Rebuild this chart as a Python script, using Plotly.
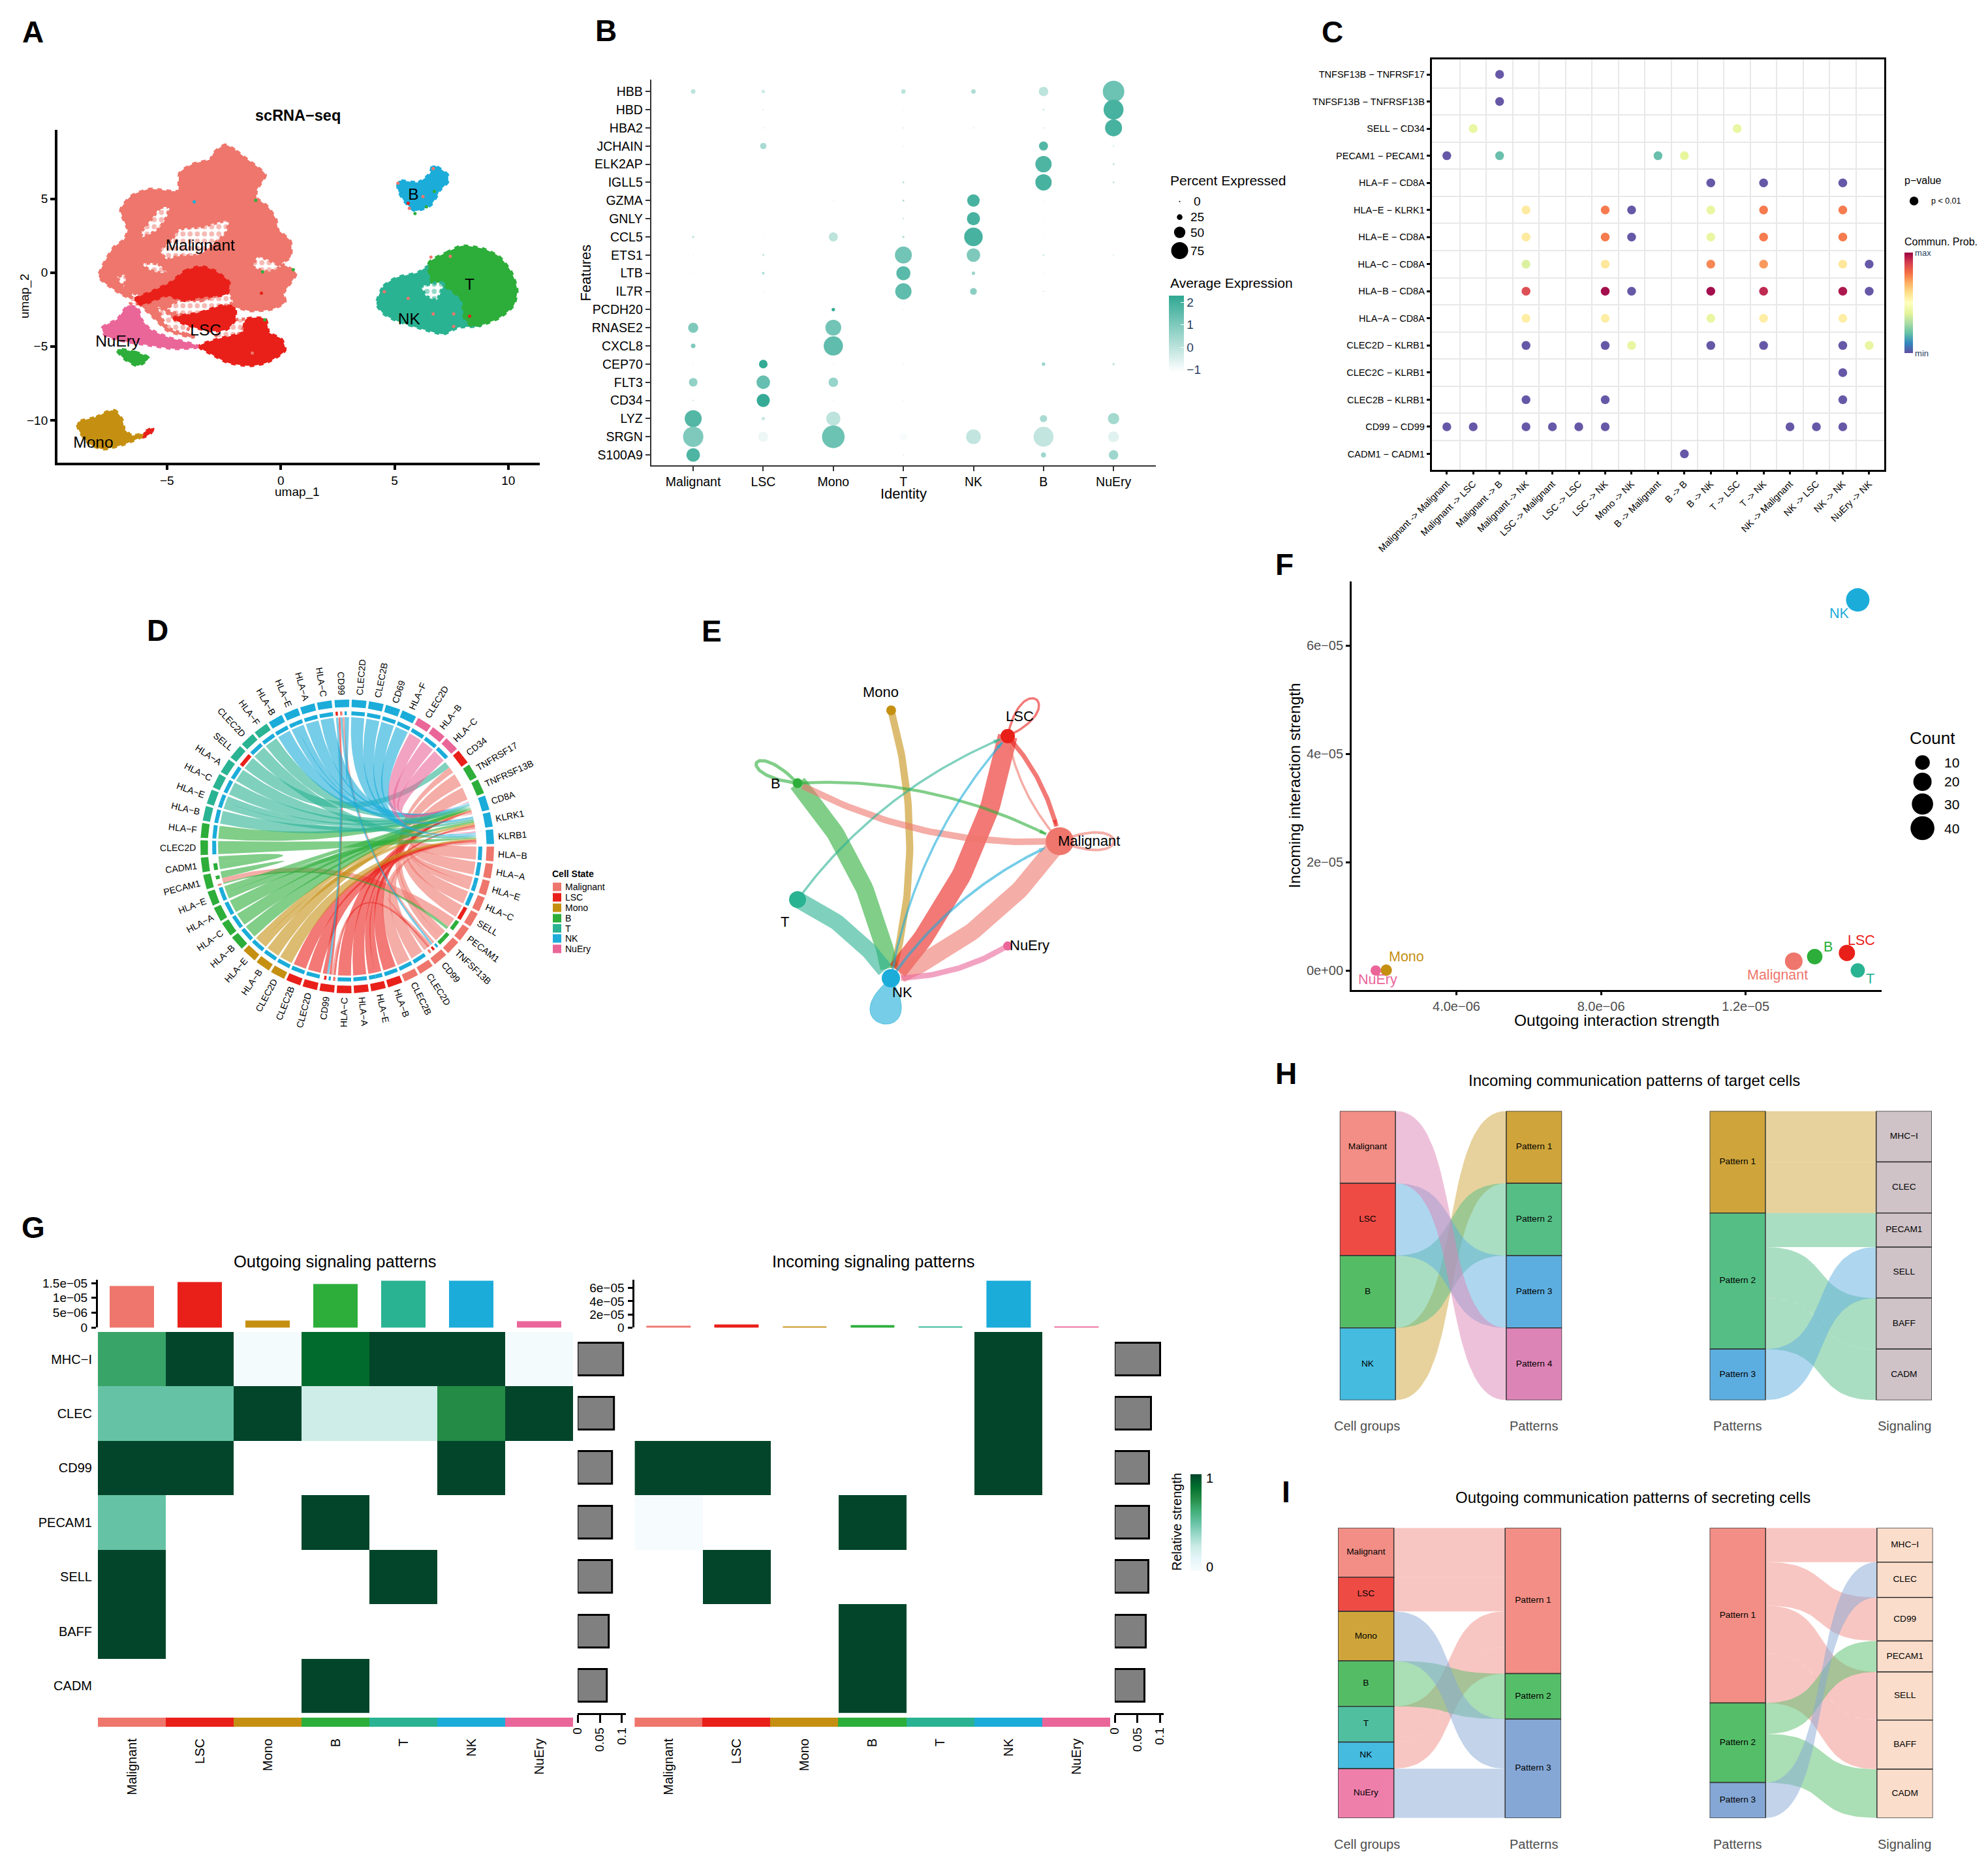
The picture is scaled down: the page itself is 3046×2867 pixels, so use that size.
import numpy as np
import plotly.graph_objects as go

W, H = 3046, 2867
FONT = "Liberation Sans"

# ---------- shared ----------
COL = dict(Malignant="#EE766C", LSC="#E9201A", Mono="#C59012", B="#2DAE3A", T="#2AB392", NK="#1BACD9", NuEry="#EA6699")

# ---------- A: UMAP outlines (umap_1, umap_2) ----------
A_MALIGNANT = [(-2.44,8.6),(-1.97,8.19),(-1.5,7.63),(-1.02,7.07),(-0.71,6.61),(-1.1,5.6),(-1.1,5.03),(-0.63,4.47),(-0.24,3.57),(-0.16,2.89),(0.39,2.1),(0.39,1.08),(0,0.63),(0.63,-0.05),(0.08,-1.4),(0.16,-1.96),(-0.39,-2.42),(-1.34,-2.53),(-1.97,-2.3),(-2.91,-2.08),(-4.49,-2.75),(-4.65,-3.66),(-3.86,-4.33),(-4.96,-3.88),(-5.43,-3.2),(-6.38,-1.85),(-7.0,-1.4),(-7.95,-0.27),(-7.8,0.41),(-7.32,1.65),(-6.85,2.21),(-6.69,2.89),(-7.0,4.24),(-6.54,5.15),(-5.75,5.6),(-4.49,5.49),(-4.41,6.73),(-3.86,7.29),(-3.07,7.63),(-2.91,8.08)]
A_HOLES = [
    [(-5.6,3.8),(-5.3,4.4),(-4.9,4.4),(-5.0,3.8),(-5.4,2.9),(-6.1,2.4),(-6.1,2.8)],
    [(-4.5,2.9),(-3.5,3.1),(-2.3,3.5),(-2.4,2.7),(-2.9,2.0),(-3.6,1.2),(-4.5,1.1),(-5,0.9),(-5.3,1.5),(-4.8,2.2)],
    [(-6.1,0.6),(-5.4,0.6),(-5,0),(-5.4,0),(-5.8,0.2)],
    [(-1,1.1),(-0.2,0.6),(0,0.4),(-0.55,0.05),(-1.2,0.4)],
    [(-4.5,-1.9),(-3.5,-1.9),(-2.3,-1.4),(-2.1,-2),(-2.9,-2.5),(-4.2,-2.9),(-5,-2.5)],
    [(-5.4,-2.3),(-4.65,-3.1),(-4,-3.5),(-4.2,-4.1),(-5,-3.7)],
    [(-2.9,-4.1),(-2,-3.2),(-1.5,-3.2),(-1.8,-4.1),(-2.6,-4.6)],
    [(-6.5,-1.4),(-6.2,-1.6),(-6.3,-2.1),(-6.6,-2.1)],
    [(-7.2,-0.3),(-6.8,-0.15),(-6.9,-0.95)],
]
A_LSC = [
    [(-4.8,-0.7),(-4.2,0.05),(-3.5,0.35),(-2.9,0.05),(-2.3,-0.7),(-2.4,-1.4),(-3.5,-1.6),(-4.2,-1.85),(-5,-1.5),(-6.1,-2.1),(-6.4,-1.85),(-5.6,-1.3)],
    [(-4.65,-3.1),(-3.5,-2.75),(-2.6,-2.3),(-2.05,-2.4),(-2.05,-3.2),(-2.4,-3.8),(-3.1,-3.9),(-4,-3.55)],
    [(-1.5,-3.2),(-0.7,-3.2),(-0.55,-4.1),(0,-4.55),(0.15,-5.25),(-0.65,-6.05),(-1.35,-6.25),(-2.3,-6.05),(-3.05,-5.45),(-3.55,-5),(-2.75,-4.55),(-1.65,-4.1)],
    [(-6,-10.9),(-5.65,-10.6),(-5.75,-10.85),(-6.05,-11.1)],
]
A_NUERY = [(-6.7,-2.3),(-6.3,-2.5),(-6.15,-3.2),(-5.75,-3.9),(-4.95,-4.45),(-3.7,-5),(-4.65,-5.1),(-6.05,-4.8),(-7,-4.55),(-7.7,-4.2),(-7.8,-3.75),(-7.15,-3.2)]
A_GREEN_SMALL = [(-7.15,-5.25),(-6.4,-5.45),(-5.85,-5.8),(-6.3,-6.25),(-6.85,-5.8)]
A_MONO = [(-8.9,-10.2),(-8.1,-9.85),(-7.65,-9.5),(-7.3,-9.4),(-7,-10),(-6.9,-10.65),(-6.55,-11.1),(-6.05,-11),(-6.85,-11.55),(-7.8,-11.9),(-8.4,-11.55),(-8.8,-10.75)]
A_CYAN = [(5.2,6.15),(6.05,6.05),(6.6,6.7),(6.7,7.2),(7.3,6.6),(7.3,6.15),(6.95,5.6),(6.8,5.15),(6.55,4.6),(5.9,4.25),(5.45,4.9),(5.2,5.6)]
A_T = [(6.55,0.65),(7.3,1.3),(7.95,1.75),(8.9,1.55),(9.6,1.0),(10.1,0),(10.35,-1.2),(10.2,-2.2),(9.6,-3.0),(8.9,-3.45),(8.4,-3.55),(8.1,-3.05),(8,-1.85),(7.3,-0.95),(6.7,-0.7)]
A_NK = [(4.25,-2.1),(4.55,-0.95),(5.1,-0.4),(6.05,-0.05),(6.55,0.4),(7.5,-0.95),(8,-1.95),(8.1,-3),(8.75,-3.55),(7.8,-3.65),(7.15,-4.1),(6.2,-3.75),(5.1,-3.2),(4.55,-2.75)]
A_NK_HOLE = [(6.2,-0.95),(7.15,-0.7),(6.85,-1.85),(6.4,-1.6)]
A_DOT_X = [7.45,6.6,4.55,5.6,6.7,7.6,7.6,8.3,5.15,5.6,5.65,5.9,6.4,6.75,6.7,6.25,-1.1,-3.8,-0.85,0.55,-0.8,-1.25,-0.7]
A_DOT_Y = [1.1,1.05,-1.3,-1.75,-2.8,-2.8,-3.65,-2.95,6.05,4.7,4.35,4.0,4.45,5.5,7.05,5.15,4.9,4.8,-1.4,0.2,0.05,-5.45,-3.2]
A_DOT_GROUP = ["Malignant","Malignant","Malignant","Malignant","Malignant","Malignant","Malignant","LSC","Malignant","LSC","Malignant","B","B","B","Malignant","Malignant","B","NK","LSC","B","B","Malignant","B"]
A_LABELS = ["Malignant","LSC","NuEry","Mono","B","T","NK"]
A_LABEL_X = [-3.54,-3.3,-7.17,-8.24,5.83,8.3,5.64]
A_LABEL_Y = [1.76,-4.0,-4.74,-11.6,5.19,-0.9,-3.25]

# ---------- B: dot plot ----------
B_IDENT = ["Malignant","LSC","Mono","T","NK","B","NuEry"]
B_GENES = ["HBB","HBD","HBA2","JCHAIN","ELK2AP","IGLL5","GZMA","GNLY","CCL5","ETS1","LTB","IL7R","PCDH20","RNASE2","CXCL8","CEP70","FLT3","CD34","LYZ","SRGN","S100A9"]
B_PCT = [[20,15,1,20,20,42,95],[3,5,1,3,2,8,88],[3,5,1,5,5,6,75],[4,28,1,5,2,40,7],[2,2,1,2,2,72,8],[2,2,1,8,2,72,8],[2,2,5,8,55,3,2],
         [2,2,1,6,58,3,2],[10,3,40,10,82,3,2],[3,10,1,75,60,8,6],[3,12,1,62,15,3,1],[2,5,1,72,30,6,3],[1,1,15,2,1,1,1],[45,2,70,1,1,2,3],
         [20,2,85,1,1,2,3],[4,38,4,3,2,15,10],[38,60,42,1,1,1,1],[6,58,2,2,2,2,2],[75,15,62,3,2,32,50],[90,45,100,35,65,88,48],[60,2,3,5,2,22,42]]
B_EXPR = [[0,-.3,-1,0,.2,0,1.3],[-.5,0,-1,-.5,-.8,-.2,1.9],[-.5,-.3,-1,-.2,-.2,-.3,1.9],[-.7,.3,-1,-.5,-1,1.7,-.3],[-.8,-.8,-.8,-.8,-.8,1.8,.2],[-.8,-.8,-.8,.2,-.8,1.9,0],[-.8,-.8,-.5,.3,1.9,-.5,-.8],
          [-.8,-.8,-.8,0,1.9,-.5,-.8],[0,-.5,0,.2,1.9,-.5,-.8],[-.5,-.2,-1,1.2,1.0,-.2,-.3],[-.6,.2,-1,1.6,.5,-.5,-1],[-.8,-.5,-1,1.5,.8,-.2,-.6],[-1,-1,2.2,-.5,-1,-1,-1],[1,-.8,1.2,-1,-1,-.8,-.6],
          [1,-.8,1.5,-1,-1,-.8,-.6],[-.3,2.2,-.5,-.4,-.8,.6,0],[.7,1.4,.6,-1,-1,-1,-1],[0,2.2,-.5,-.5,-.8,-.8,-.8],[1.7,-.2,0,-.8,-1,.3,.4],[1.0,-.8,1.3,-1,-.1,-.1,-.6],[1.8,-.8,-.5,-.3,-.8,.5,.5]]
B_LEGEND_PCT = [0,25,50,75]

# ---------- C: L-R bubble ----------
C_PAIRS = ["Malignant -> Malignant","Malignant -> LSC","Malignant -> B","Malignant -> NK","LSC -> Malignant","LSC -> LSC","LSC -> NK","Mono -> NK","B -> Malignant","B -> B","B -> NK","T -> LSC","T -> NK","NK -> Malignant","NK -> LSC","NK -> NK","NuEry -> NK"]
C_LR = ["TNFSF13B − TNFRSF17","TNFSF13B − TNFRSF13B","SELL − CD34","PECAM1 − PECAM1","HLA−F − CD8A","HLA−E − KLRK1","HLA−E − CD8A","HLA−C − CD8A","HLA−B − CD8A","HLA−A − CD8A","CLEC2D − KLRB1","CLEC2C − KLRB1","CLEC2B − KLRB1","CD99 − CD99","CADM1 − CADM1"]
C_COLS = [[2],[2],[1,11],[0,2,8,9],[10,12,15],[3,6,7,10,12,15],[3,6,7,10,12,15],[3,6,10,12,15,16],[3,6,7,10,12,15,16],[3,6,10,12,15],[3,6,7,10,12,15,16],[15],[3,6,15],[0,1,3,4,5,6,13,14,15],[9]]
C_VALS = [[0],[0],[.41,.41],[0,.19,.19,.40],[0,0,0],[.57,.79,0,.41,.79,.79],[.57,.79,0,.41,.79,.79],[.38,.58,.77,.74,.58,0],[.88,1,0,1,.95,.98,0],[.56,.56,.41,.56,.56],[0,0,.41,0,0,0,.41],[0],[0,0,0],[0,0,0,0,0,0,0,0,0],[0]]

# ---------- D: chord ----------
D_SECTORS = ["CD99","CLEC2D","CLEC2B","CD69","HLA−F","CLEC2D","HLA−B","HLA−C","CD34","TNFRSF17","TNFRSF13B","CD8A","KLRK1","KLRB1",
             "HLA−B","HLA−A","HLA−E","HLA−C","SELL","PECAM1","TNFSF13B","CD99","CLEC2D","CLEC2B",
             "HLA−B","HLA−E","HLA−A","HLA−C","CD99","CLEC2D","CLEC2B","CLEC2D","HLA−B","HLA−E",
             "HLA−B","HLA−C","HLA−A","HLA−E","PECAM1","CADM1","CLEC2D","HLA−F",
             "HLA−B","HLA−E","HLA−C","HLA−A","SELL","CLEC2D","HLA−F","HLA−B","HLA−E","HLA−A","HLA−C"]
D_GROUPS = ["NK"]*5+["NuEry"]*3+["LSC"]+["B"]*2+["NK"]*3+["Malignant"]*10+["LSC"]*7+["Mono"]*3+["B"]*8+["T"]*7+["NK"]*4
D_SRC = [15,16,17,17,18,19,20,21,21,22,22,22,23,24, 25,26,26,27,28,29,29,29,30,31, 32,33,34,34, 35,36,37,38,38,39,39,40,41,42, 43,44,44,45,46,47,48,49, 50,51,51,52,53,1,1,1,2,3,4,5, 6,7,8]
D_DST = [12,12,12,13,12,9,39,10,11,29,1,22,14,14, 12,12,13,12,12,1,22,29,14,14, 14,12,12,13, 12,12,12,12,13,20,39,40,14,12, 12,12,13,12,12,9,14,12, 12,12,13,12,12,22,29,1,14,14,14,12, 14,12,12]
D_WGT = [1,1,.5,.5,1,1,1,.5,.5,.33,.33,.33,1,1, 1,.5,.5,1,1,.33,.33,.33,1,1, 1,1,.5,.5, 1,1,1,.5,.5,.3,.7,1,1,1, 1,.5,.5,1,1,1,1,1, 1,.5,.5,1,1,.33,.33,.33,1,1,1,1, 1,1,1]

# ---------- E: network ----------
E_NODES = ["Mono","LSC","B","Malignant","T","NuEry","NK"]
E_NODE_X = [1365.4,1544,1222,1623.7,1222,1544,1365]
E_NODE_Y = [1088.4,1128,1200,1289,1378.4,1449.6,1499]
E_NODE_SIZE = [15,22,15,43,26,14,28]
E_SRC = ["Mono","B","T","LSC","Malignant","NuEry","Malignant","B","T","NK","NK","LSC","Malignant"]
E_DST = ["NK","NK","NK","NK","NK","NK","B","Malignant","LSC","LSC","Malignant","Malignant","LSC"]
E_WIDTH = [11,27,25,30,27,8.5,10,4.5,3.5,3.5,4,7,3.5]
E_LOOP_NODE = ["B","LSC","Malignant"]
E_LOOP_WIDTH = [5,3.5,4]

# ---------- F: scatter ----------
F_NAMES = ["Malignant","LSC","Mono","B","T","NK","NuEry"]
F_OUT = [13.33e-6,14.8e-6,2.06e-6,13.91e-6,15.1e-6,15.1e-6,1.77e-6]
F_IN = [1.75e-6,3.27e-6,0.1e-6,2.6e-6,0.05e-6,68.4e-6,0.03e-6]
F_COUNT = [18,14,3,12,9,38,1]
F_LEGEND = [10,20,30,40]

# ---------- G: heatmaps ----------
G_CELLS = ["Malignant","LSC","Mono","B","T","NK","NuEry"]
G_SIGNALS = ["MHC−I","CLEC","CD99","PECAM1","SELL","BAFF","CADM"]
G_OUT = [[.66,1,.02,.88,1,1,.02],[.5,.5,1,.24,.24,.75,1],[1,1,None,None,None,1,None],[.5,None,None,1,None,None,None],[1,None,None,None,1,None,None],[1,None,None,None,None,None,None],[None,None,None,1,None,None,None]]
G_IN = [[None,None,None,None,None,1,None],[None,None,None,None,None,1,None],[1,1,None,None,None,1,None],[.01,None,None,1,None,None,None],[None,1,None,None,None,None,None],[None,None,None,1,None,None,None],[None,None,None,1,None,None,None]]
G_OUT_TOP = [13.7e-6,15.2e-6,2.2e-6,14.4e-6,15.6e-6,15.6e-6,1.9e-6]
G_IN_TOP = [1.8e-6,3.3e-6,1.0e-6,3.0e-6,1.0e-6,70e-6,1.0e-6]
G_OUT_SIDE = [.103,.082,.078,.078,.078,.071,.066]
G_IN_SIDE = [.102,.081,.077,.077,.076,.07,.067]

# ---------- H / I: alluvials ----------
HL_LEFT = ["Malignant","LSC","B","NK"]; HL_RIGHT = ["Pattern 1","Pattern 2","Pattern 3","Pattern 4"]
HL_SRC = [3,2,1,0]; HL_DST = [0,1,2,3]; HL_VAL = [1,1,1,1]
HR_LEFT = ["Pattern 1","Pattern 2","Pattern 3"]; HR_RIGHT = ["MHC−I","CLEC","PECAM1","SELL","BAFF","CADM"]
HR_SRC = [0,0,1,1,1,2]; HR_DST = [0,1,2,4,5,3]; HR_VAL = [1,1,.667,1,1,1]
IL_LEFT = ["Malignant","LSC","Mono","B","T","NK","NuEry"]; IL_RIGHT = ["Pattern 1","Pattern 2","Pattern 3"]
IL_SRC = [0,1,4,5,3,2,6]; IL_DST = [0,0,0,0,1,2,2]; IL_VAL = [.170,.118,.123,.092,.157,.171,.170]
IR_LEFT = ["Pattern 1","Pattern 2","Pattern 3"]; IR_RIGHT = ["MHC−I","CLEC","CD99","PECAM1","SELL","BAFF","CADM"]
IR_SRC = [0,0,0,0,1,1,2]; IR_DST = [0,2,4,5,3,6,1]; IR_VAL = [.118,.150,.166,.170,.107,.168,.122]

# =========================== helpers ===========================
traces, annots, shapes = [], [], []
layout_axes = {}
_n = [0]

def rgba(hexc, a):
    return f"rgba({int(hexc[1:3],16)},{int(hexc[3:5],16)},{int(hexc[5:7],16)},{a})"

def axes(x0, x1, y0, y1, xr, yr, xa=None, ya=None):
    _n[0] += 1
    n = _n[0]
    xd = dict(domain=[x0/W, x1/W], range=list(xr), anchor=f"y{n}", visible=False, showgrid=False, zeroline=False, fixedrange=True)
    yd = dict(domain=[1-y1/H, 1-y0/H], range=list(yr), anchor=f"x{n}", visible=False, showgrid=False, zeroline=False, fixedrange=True)
    if xa: xd.update(visible=True, **xa)
    if ya: yd.update(visible=True, **ya)
    layout_axes[f"xaxis{n}"] = xd
    layout_axes[f"yaxis{n}"] = yd
    return f"x{n}", f"y{n}"

def add(tr, ax):
    tr.xaxis, tr.yaxis = ax
    traces.append(tr)

def note(x, y, text, size=18, color="black", bold=False, angle=0, xa="center", ya="middle"):
    annots.append(dict(x=x/W, y=1-y/H, xref="paper", yref="paper", text=f"<b>{text}</b>" if bold else text, showarrow=False,
                       font=dict(family=FONT, size=size, color=color), textangle=angle, xanchor=xa, yanchor=ya, borderpad=0))

def circle(cx, cy, d, color="black"):
    shapes.append(dict(type="circle", xref="paper", yref="paper", x0=(cx-d/2)/W, x1=(cx+d/2)/W, y0=1-(cy+d/2)/H, y1=1-(cy-d/2)/H, fillcolor=color, line=dict(width=0)))

def rect(x0, y0, x1, y1, color):
    shapes.append(dict(type="rect", xref="paper", yref="paper", x0=x0/W, x1=x1/W, y0=1-y1/H, y1=1-y0/H, fillcolor=color, line=dict(width=0)))

def tickstyle(size=18, color="black", lw=2, linecolor="black", ticklen=7, tickw=None, **kw):
    d = dict(showline=True, linecolor=linecolor, linewidth=lw, ticks="outside", ticklen=ticklen, tickwidth=tickw or lw, tickcolor=linecolor,
             tickfont=dict(family=FONT, size=size, color=color))
    d.update(kw)
    return d

# =========================== panel letters ===========================
for L, x, y in [("A",50.5,48.6),("B",928.6,46.6),("C",2041.7,48.6),("D",241,965.5),("E",1090,967.4),("F",1968,864.5),("G",50.5,1880.5),("H",1970,1645),("I",1970,2286.4)]:
    note(x, y, L, size=46, bold=True)

# =========================== A ===========================
axA = axes(87.8, 826.6, 199, 709, (-9.82,11.37), (-12.88,9.67),
           xa=tickstyle(19, lw=3.5, tickvals=[-5,0,5,10]), ya=tickstyle(19, lw=3.5, tickvals=[-10,-5,0,5]))

def poly(pts, color, ax, lw=3, rough=True):
    x = [p[0] for p in pts]+[pts[0][0]]
    y = [p[1] for p in pts]+[pts[0][1]]
    spl = dict(shape="spline", smoothing=.6)
    add(go.Scatter(x=x, y=y, mode="lines", fill="toself", fillcolor=color, line=dict(color=color, width=lw, **spl), hoverinfo="skip"), ax)
    if rough:
        add(go.Scatter(x=x, y=y, mode="lines", line=dict(color=color, width=7, dash="dot", **spl), hoverinfo="skip"), ax)

def hole(pts, color, ax):
    x = [p[0] for p in pts]+[pts[0][0]]
    y = [p[1] for p in pts]+[pts[0][1]]
    add(go.Scatter(x=x, y=y, mode="lines", fill="toself", fillcolor="white",
                   fillpattern=dict(shape=".", bgcolor="white", fgcolor=color, size=11, solidity=.4),
                   line=dict(color=color, width=5, dash="dot", shape="spline", smoothing=.6), hoverinfo="skip"), ax)

poly(A_MALIGNANT, COL["Malignant"], axA)
for h in A_HOLES:
    hole(h, COL["Malignant"], axA)
for b in A_LSC:
    poly(b, COL["LSC"], axA)
poly(A_NUERY, COL["NuEry"], axA)
poly(A_GREEN_SMALL, COL["B"], axA)
poly(A_MONO, COL["Mono"], axA)
poly(A_CYAN, COL["NK"], axA)
poly(A_NK, COL["T"], axA)
poly(A_T, COL["B"], axA)
hole(A_NK_HOLE, COL["T"], axA)
add(go.Scatter(x=A_DOT_X, y=A_DOT_Y, mode="markers", marker=dict(size=5, opacity=1, color=[COL[g] for g in A_DOT_GROUP], line=dict(width=0))), axA)
add(go.Scatter(x=A_LABEL_X, y=A_LABEL_Y, mode="text", text=A_LABELS, textfont=dict(family=FONT, size=24.5, color="black")), axA)
note(456, 177, "scRNA−seq", size=23.5, bold=True)
note(455, 754, "umap_1", size=19)
note(38, 454, "umap_2", size=19, angle=-90)

# =========================== B ===========================
axB = axes(997.7, 1770.6, 122.4, 713, (-0.6,6.6), (20.57,-0.64),
           xa=tickstyle(19.5, lw=2, linecolor="#333333", tickvals=list(range(7)), ticktext=B_IDENT),
           ya=tickstyle(19.5, lw=2, linecolor="#333333", tickvals=list(range(21)), ticktext=B_GENES))
bx, by, bs, bc = [], [], [], []
for r, g in enumerate(B_GENES):
    for c in range(7):
        bx.append(c); by.append(r); bs.append(max(1.5, B_PCT[r][c]*.347)); bc.append(B_EXPR[r][c])
add(go.Scatter(x=bx, y=by, mode="markers", marker=dict(size=bs, sizemode="diameter", opacity=1, color=bc, cmin=-1.1, cmax=2.3,
    colorscale=[[0,"#FFFFFF"],[1,"#2FA893"]], line=dict(width=0),
    colorbar=dict(x=1791/W, xanchor="left", y=1-453/H, yanchor="top", len=117, lenmode="pixels", thickness=23, thicknessmode="pixels", xpad=0, ypad=0,
                  outlinewidth=0, tickvals=[-1,0,1,2], ticks="inside", tickcolor="white", ticklen=5, tickfont=dict(family=FONT, size=19)))), axB)
note(1791.7, 276.5, "Percent Expressed", size=21, xa="left")
note(1791.7, 433.7, "Average Expression", size=21, xa="left")
for p, y in zip(B_LEGEND_PCT, [308.7,332.7,356,384]):
    circle(1807.5, y, max(2, p*.347))
    note(1834.6, y, str(p), size=19)
note(897.6, 418, "Features", size=22, angle=-90)
note(1384, 756, "Identity", size=22)

# =========================== C ===========================
axC = axes(2193.5, 2887, 90.5, 719.6, (-0.576,16.57), (14.58,-0.566),
           xa=tickstyle(14.5, lw=2.5, ticklen=5, mirror=True, tickvals=list(range(17)), ticktext=C_PAIRS, tickangle=-45,
                        minor=dict(tickvals=[i+.5 for i in range(16)], showgrid=True, gridcolor="#E8E8E8", gridwidth=1.5, ticks="")),
           ya=tickstyle(14.5, lw=2.5, ticklen=5, mirror=True, tickvals=list(range(15)), ticktext=C_LR,
                        minor=dict(tickvals=[i+.5 for i in range(14)], showgrid=True, gridcolor="#E8E8E8", gridwidth=1.5, ticks="")))
cx, cy, cv = [], [], []
for r in range(15):
    for c, v in zip(C_COLS[r], C_VALS[r]):
        cx.append(c); cy.append(r); cv.append(v)
SPECTRAL = ["#5E4FA2","#3288BD","#66C2A5","#ABDDA4","#E6F598","#FFFFBF","#FEE08B","#FDAE61","#F46D43","#D53E4F","#9E0142"]
add(go.Scatter(x=cx, y=cy, mode="markers", marker=dict(size=13.5, color=cv, cmin=0, cmax=1, opacity=.95,
    colorscale=[[i/10, c] for i, c in enumerate(SPECTRAL)], line=dict(width=0),
    colorbar=dict(x=2918/W, xanchor="left", y=1-387/H, yanchor="top", len=154, lenmode="pixels", thickness=13, thicknessmode="pixels", xpad=0, ypad=0,
                  outlinewidth=0, tickvals=[0,1], ticktext=["min","max"], ticks="", tickfont=dict(family=FONT, size=13)))), axC)
note(2917, 276.5, "p−value", size=16, xa="left")
circle(2932.6, 308, 13.5)
note(2958, 308, "p &lt; 0.01", size=12.5, xa="left")
note(2917, 370, "Commun. Prob.", size=16, xa="left")

# =========================== D ===========================
cxD, cyD, RD = 532, 1297, 225
axD = axes(cxD-RD*1.3, cxD+RD*1.3, cyD-RD*1.3, cyD+RD*1.3, (-1.3,1.3), (-1.3,1.3))
N = len(D_SECTORS)
STEP, A0, HW = 6.79, -2.1, 2.9
sec_center = [A0+i*STEP for i in range(N)]
def P(r, a):
    t = np.radians(a)
    return r*np.sin(t), r*np.cos(t)
def band(r0, r1, a0, a1, color, ax):
    ang = np.linspace(a0, a1, 12)
    x0, y0 = P(r1, ang); x1, y1 = P(r0, ang[::-1])
    add(go.Scatter(x=np.r_[x0, x1, x0[0]], y=np.r_[y0, y1, y0[0]], mode="lines", fill="toself", fillcolor=color, line=dict(width=0), hoverinfo="skip"), ax)
src = [s-1 for s in D_SRC]; dst = [d-1 for d in D_DST]
ends = [[] for _ in range(N)]
for i, (s, d, w) in enumerate(zip(src, dst, D_WGT)):
    ends[s].append((((d-s) % N), "o", i, w))
    ends[d].append((((s-d) % N), "i", i, w))
s_ang, d_ang = {}, {}
for k in range(N):
    if not ends[k]:
        continue
    tot = sum(e[3] for e in ends[k])
    pos = sec_center[k]+HW
    for _, kind, i, w in sorted(ends[k], key=lambda e: (e[0], e[1])):
        da = w/tot*2*HW
        (s_ang if kind == "o" else d_ang)[i] = (pos-da, pos)
        pos -= da
RC = .88
tt = np.linspace(0, 1, 40)
def qb(a, b, cx_, cy_):
    ax_, ay_ = P(RC, a); bx_, by_ = P(RC, b)
    return (1-tt)**2*ax_+2*tt*(1-tt)*cx_+tt**2*bx_, (1-tt)**2*ay_+2*tt*(1-tt)*cy_+tt**2*by_
KEEP = .22
for i in range(len(src)):
    a0, a1 = s_ang[i]; b0, b1 = d_ang[i]
    arcA = np.linspace(a0, a1, 6); arcB = np.linspace(b0, b1, 6)
    xa_, ya_ = P(RC, arcA); xb_, yb_ = P(RC, arcB)
    ex, ey = (xa_[-1]-xa_[0])*KEEP, (ya_[-1]-ya_[0])*KEEP
    x1, y1 = qb(a1, b0, ex, ey); x2, y2 = qb(b1, a0, -ex, -ey)
    xs = np.r_[xa_, x1, xb_, x2]; ys = np.r_[ya_, y1, yb_, y2]
    add(go.Scatter(x=xs, y=ys, mode="lines", fill="toself", fillcolor=rgba(COL[D_GROUPS[src[i]]], .6), line=dict(width=0), hoverinfo="skip"), axD)
for k in range(N):
    band(.949, 1.0, sec_center[k]-HW, sec_center[k]+HW, COL[D_GROUPS[k]], axD)
for i in range(len(src)):
    a0, a1 = s_ang[i]
    band(.893, .92, a0, a1, COL[D_GROUPS[dst[i]]], axD)
CW = dict(A=.667,B=.667,C=.722,D=.722,E=.667,F=.611,H=.722,I=.278,K=.667,L=.556,M=.833,N=.722,P=.667,R=.722,S=.667,T=.611)
for k, lab in enumerate(D_SECTORS):
    a = sec_center[k]
    tw = sum(CW.get(ch, .57) for ch in lab)*14
    r = RD+7+tw/2
    t = np.radians(a)
    ang = a-90 if 0 <= a % 360 < 180 else a+90-360 if a > 180 else a+90
    note(cxD+r*np.sin(t), cyD-r*np.cos(t), lab, size=14, angle=ang)
note(845, 1338.5, "Cell State", size=14, bold=True, xa="left")
for name, y in zip(COL, [1359,1375,1391,1407,1422.5,1438,1454]):
    rect(847, y-6.5, 860, y+6.5, COL[name])
    note(865, y, name, size=14, xa="left")

# =========================== E ===========================
axE = axes(1060, 1820, 930, 1650, (1060,1820), (1650,930))
pos = {n: np.array([x, y]) for n, x, y in zip(E_NODES, E_NODE_X, E_NODE_Y)}
rad = {n: s/2 for n, s in zip(E_NODES, E_NODE_SIZE)}
CURV = .14
tE = np.linspace(0, 1, 50)
for s, d, w in zip(E_SRC, E_DST, E_WIDTH):
    p0, p1 = pos[s], pos[d]
    v = p1-p0; L = np.hypot(*v)
    c = (p0+p1)/2+np.array([v[1], -v[0]])*CURV
    t = tE*(1-(rad[d]+1)/L)
    x = (1-t)**2*p0[0]+2*t*(1-t)*c[0]+t**2*p1[0]
    y = (1-t)**2*p0[1]+2*t*(1-t)*c[1]+t**2*p1[1]
    m = dict(symbol="arrow", angleref="previous", size=[0]*(len(t)-1)+[11], color=rgba(COL[s], .85), line=dict(width=0)) if w <= 7 else None
    add(go.Scatter(x=x, y=y, mode="lines+markers" if m else "lines", marker=m, line=dict(color=rgba(COL[s], .6), width=w), hoverinfo="skip"), axE)
def loop(node, dx, dy, spread, lw, fill=False):
    p0 = pos[node]
    base = np.arctan2(dy, dx); L = np.hypot(dx, dy)/np.cos(spread)*1.333
    p1 = p0+L*np.array([np.cos(base+spread), np.sin(base+spread)])
    p2 = p0+L*np.array([np.cos(base-spread), np.sin(base-spread)])
    t = np.linspace(0, 1, 50)[:, None]
    pts = (1-t)**3*p0+3*t*(1-t)**2*p1+3*t**2*(1-t)*p2+t**3*p0
    add(go.Scatter(x=pts[:, 0], y=pts[:, 1], mode="lines", fill="toself" if fill else None, fillcolor=rgba(COL[node], .6) if fill else None,
                   line=dict(color=rgba(COL[node], .6), width=lw), hoverinfo="skip"), axE)
loop("B", -63, -31, .35, E_LOOP_WIDTH[0])
loop("LSC", 44, -56, .47, E_LOOP_WIDTH[1])
loop("Malignant", 83, 0, .4, E_LOOP_WIDTH[2])
loop("NK", -12, 70, .72, 1, fill=True)
add(go.Scatter(x=E_NODE_X, y=E_NODE_Y, mode="markers", marker=dict(size=E_NODE_SIZE, opacity=1, color=[COL[n] for n in E_NODES], line=dict(width=0))), axE)
for n, (x, y) in zip(["Mono","LSC","B","Malignant","T","NuEry","NK"], [(1349,1060),(1562,1097.5),(1188.4,1201),(1668,1288),(1202.5,1412),(1577.6,1448.7),(1382,1520.7)]):
    note(x, y, n, size=22)

# =========================== F ===========================
axF = axes(2070.8, 2883, 891, 1516.5, (1.1e-6,1.576e-5), (-3.5e-6,7.18e-5),
           xa=tickstyle(20, "#4D4D4D", lw=2.5, ticklen=6, tickvals=[4e-6,8e-6,1.2e-5], ticktext=["4.0e−06","8.0e−06","1.2e−05"]),
           ya=tickstyle(20, "#4D4D4D", lw=2.5, ticklen=6, tickvals=[0,2e-5,4e-5,6e-5], ticktext=["0e+00","2e−05","4e−05","6e−05"]))
fsize = lambda c: float(np.sqrt(225+28*c))
add(go.Scatter(x=F_OUT, y=F_IN, mode="markers", marker=dict(size=[fsize(c) for c in F_COUNT], opacity=1, color=[COL[n] for n in F_NAMES], line=dict(width=0))), axF)
for n, (x, y) in zip(F_NAMES, [(2723,1493.7),(2852,1441.3),(2155.3,1466),(2800.8,1451),(2865,1499.5),(2818.8,940),(2111,1500.5)]):
    note(x, y, n, size=21.5, color=COL[n])
note(2477.4, 1563.5, "Outgoing interaction strength", size=24.5)
note(1983, 1204, "Incoming interaction strength", size=24.5, angle=-90)
note(2924.8, 1131, "Count", size=26, xa="left")
for c, y in zip(F_LEGEND, [1168.4,1198,1232,1269]):
    circle(2945.6, y, fsize(c))
    note(2990, y, str(c), size=21)

# =========================== G ===========================
BUGN = [[0,"#F7FCFD"],[.125,"#E5F5F9"],[.25,"#CCECE6"],[.375,"#99D8C9"],[.5,"#66C2A4"],[.625,"#41AE76"],[.75,"#238B45"],[.875,"#006D2C"],[1,"#03452A"]]
GC = [COL[n] for n in G_CELLS]
def g_panel(x0, x1, sx0, sx1, sxmax, z, top, side, ymax, ytick, yticktext, row_labels, colorbar):
    axT = axes(x0, x1, 1960.6, 2034.2, (-.5,6.5), (0,ymax),
               ya=tickstyle(19, lw=3, ticklen=7, tickvals=ytick, ticktext=yticktext, ticklabelstandoff=2))
    add(go.Bar(x=list(range(7)), y=top, width=.63, marker=dict(color=GC, line=dict(width=2, color=GC))), axT)
    ya = dict(showline=False, ticks="", tickvals=list(range(7)), ticktext=G_SIGNALS, tickfont=dict(family=FONT, size=20, color="black"), ticklabelstandoff=8) if row_labels else None
    axH = axes(x0, x1, 2041, 2624.7, (-.5,6.5), (6.5,-.5), ya=ya)
    hm = dict(colorbar=dict(x=1824/W, xanchor="left", y=1-2259/H, yanchor="top", len=148, lenmode="pixels", thickness=17, thicknessmode="pixels", xpad=0, ypad=0,
                            outlinewidth=0, showticklabels=False, ticks="")) if colorbar else dict(showscale=False)
    add(go.Heatmap(z=z, x=list(range(7)), y=list(range(7)), zmin=0, zmax=1, colorscale=BUGN, hoverongaps=False, **hm), axH)
    axS = axes(x0, x1, 2631.6, 2646, (-.5,6.5), (0,1),
               xa=dict(showline=False, ticks="outside", ticklen=9, tickcolor="rgba(0,0,0,0)", tickvals=list(range(7)), ticktext=G_CELLS, tickangle=-90,
                       tickfont=dict(family=FONT, size=20, color="black")))
    add(go.Bar(x=list(range(7)), y=[1]*7, width=1, marker=dict(color=GC, line=dict(width=0))), axS)
    axR = axes(sx0, sx1, 2041, 2624.7, (0,sxmax), (6.5,-.5),
               xa=tickstyle(19, lw=3, ticklen=12, tickvals=[0,.05,.1], ticktext=["0","0.05","0.1"], tickangle=-90))
    add(go.Bar(y=list(range(7)), x=side, orientation="h", width=.6, marker=dict(color="#808080", line=dict(color="black", width=3))), axR)

g_panel(150, 878, 885.2, 958.6, .1083, G_OUT, G_OUT_TOP, G_OUT_SIDE, 1.62e-5, [0,5e-6,1e-5,1.5e-5], ["0","5e−06","1e−05","1.5e−05"], True, False)
g_panel(972.4, 1701.3, 1708, 1783, .1087, G_IN, G_IN_TOP, G_IN_SIDE, 7.3e-5, [0,2e-5,4e-5,6e-5], ["0","2e−05","4e−05","6e−05"], False, True)
note(513.4, 1933.5, "Outgoing signaling patterns", size=25.5)
note(1337.8, 1933.5, "Incoming signaling patterns", size=25.5)
note(1803, 2332, "Relative strength", size=20, angle=-90)
note(1853, 2265, "1", size=20)
note(1853, 2400.6, "0", size=20)

# =========================== H / I ===========================
def alluvial(x0, x1, y0, y1, left, right, s, d, v, lc, rc, link_by, cwf=.2506):
    ax = axes(x0, x1, y0, y1, (0,1), (sum(v),0))
    ltot = [sum(vv for ss, vv in zip(s, v) if ss == i) for i in range(len(left))]
    rtot = [sum(vv for dd, vv in zip(d, v) if dd == i) for i in range(len(right))]
    ly = np.r_[0, np.cumsum(ltot)]; ry = np.r_[0, np.cumsum(rtot)]
    lpos = list(ly[:-1]); rpos = list(ry[:-1])
    ks = np.linspace(0, 1, 40)
    order_l = sorted(range(len(s)), key=lambda i: (s[i], d[i]))
    starts = {}
    for i in order_l:
        starts[i] = lpos[s[i]]; lpos[s[i]] += v[i]
    order_r = sorted(range(len(s)), key=lambda i: (d[i], s[i]))
    dests = {}
    for i in order_r:
        dests[i] = rpos[d[i]]; rpos[d[i]] += v[i]
    xa_, xb_ = cwf, 1-cwf
    c1 = xa_+.62*(xb_-xa_); c2 = xb_-.62*(xb_-xa_)
    def curve(y_a, y_b):
        x = (1-ks)**3*xa_+3*ks*(1-ks)**2*c1+3*ks**2*(1-ks)*c2+ks**3*xb_
        y = (1-ks)**3*y_a+3*ks*(1-ks)**2*y_a+3*ks**2*(1-ks)*y_b+ks**3*y_b
        return x, y
    for i in range(len(s)):
        xt, yt = curve(starts[i], dests[i])
        xl, yl = curve(starts[i]+v[i], dests[i]+v[i])
        col = link_by(s[i], d[i])
        add(go.Scatter(x=np.r_[xt, xl[::-1], xt[0]], y=np.r_[yt, yl[::-1], yt[0]], mode="lines", fill="toself", fillcolor=rgba(col, .5), line=dict(width=0), hoverinfo="skip"), ax)
    def node(xl, xr, ya_, yb_, col, lab):
        add(go.Scatter(x=[xl, xr, xr, xl, xl], y=[ya_, ya_, yb_, yb_, ya_], mode="lines", fill="toself", fillcolor=col, line=dict(color="#333333", width=1.5), hoverinfo="skip"), ax)
        add(go.Scatter(x=[(xl+xr)/2], y=[(ya_+yb_)/2], mode="text", text=[lab], textfont=dict(family=FONT, size=13.7, color="black")), ax)
    for i, lab in enumerate(left):
        node(0, cwf, ly[i], ly[i+1], lc[i], lab)
    for i, lab in enumerate(right):
        node(1-cwf, 1, ry[i], ry[i+1], rc[i], lab)

NODE = dict(Malignant="#F28E85", LSC="#EE4B45", Mono="#CFA53B", B="#55BC66", T="#50BFA0", NK="#45BBE0", NuEry="#EE7FAB")
H_PAT = ["#CFA53B","#55BE85","#5DAEE0","#DD84B6"]
I_PAT = ["#F28E85","#55BE69","#85A7D6"]
alluvial(2052.8, 2393.2, 1702.4, 2145.5, HL_LEFT, HL_RIGHT, HL_SRC, HL_DST, HL_VAL, [NODE[n] for n in HL_LEFT], H_PAT, lambda s, d: H_PAT[d])
alluvial(2619.6, 2960, 1702.4, 2145.5, HR_LEFT, HR_RIGHT, HR_SRC, HR_DST, HR_VAL, H_PAT[:3], ["#CFC3C8"]*6, lambda s, d: H_PAT[s])
alluvial(2050, 2391.8, 2341.3, 2785.7, IL_LEFT, IL_RIGHT, IL_SRC, IL_DST, IL_VAL, [NODE[n] for n in IL_LEFT], I_PAT, lambda s, d: I_PAT[d])
alluvial(2619.6, 2961.5, 2341.3, 2785.7, IR_LEFT, IR_RIGHT, IR_SRC, IR_DST, IR_VAL, I_PAT, ["#FBDDCB"]*7, lambda s, d: I_PAT[s])
note(2503.6, 1655.3, "Incoming communication patterns of target cells", size=24)
note(2502, 2294, "Outgoing communication patterns of secreting cells", size=24)
for y in (2185, 2826):
    note(2094, y, "Cell groups", size=20, color="#4D4D4D")
    note(2350, y, "Patterns", size=20, color="#4D4D4D")
    note(2662.3, y, "Patterns", size=20, color="#4D4D4D")
    note(2917.5, y, "Signaling", size=20, color="#4D4D4D")

fig = go.Figure(data=traces)
fig.update_layout(width=W, height=H, margin=dict(l=0, r=0, t=0, b=0, autoexpand=False), paper_bgcolor="white", plot_bgcolor="rgba(0,0,0,0)",
                  showlegend=False, annotations=annots, shapes=shapes, bargap=0, font=dict(family=FONT), **layout_axes)
fig.write_html("out.html", config=dict(displayModeBar=False), post_script="document.body.style.margin='0';")
